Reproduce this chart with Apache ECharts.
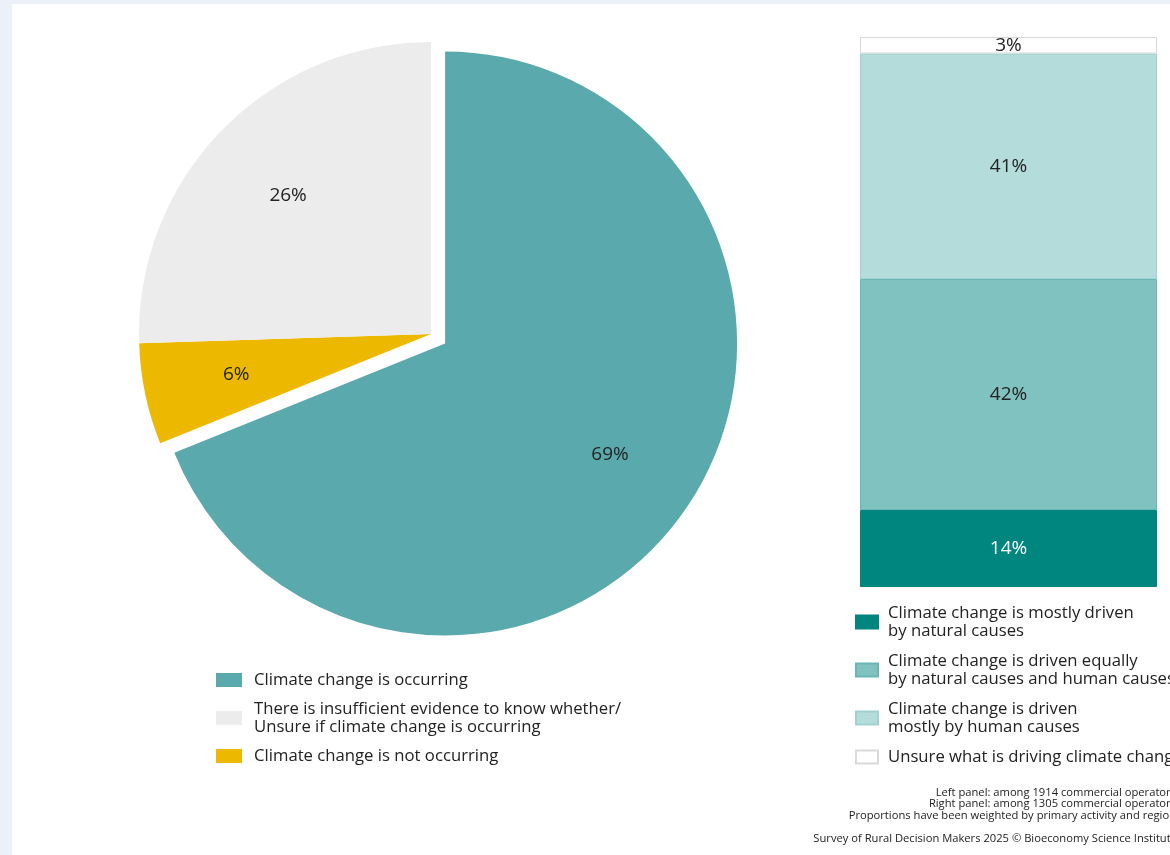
<!DOCTYPE html>
<html>
<head>
<meta charset="utf-8">
<script src="https://cdn.jsdelivr.net/npm/echarts@6/dist/echarts.min.js"></script>
<style>
  html, body { margin: 0; padding: 0; background: #ebf0f9; width: 1170px; height: 855px; overflow: hidden; }
  #panel { position: absolute; left: 12px; top: 4px; width: 1200px; height: 900px; background: #ffffff; }
  #chart { position: absolute; left: 0; top: 0; width: 1170px; height: 855px; }
</style>
</head>
<body>
<div id="panel"></div>
<div id="chart"></div>
<script>
// Left panel: pie (clockwise from 12 o'clock)
const pieNames = [
  'Climate change is occurring',
  'Climate change is not occurring',
  'There is insufficient evidence to know whether/\nUnsure if climate change is occurring'
];
const pieValues = [68.9, 5.6, 25.5];
const pieColors = ['#5aa9ac', '#ecb800', '#ececec'];
const pieLegendOrder = [pieNames[0], pieNames[2], pieNames[1]];

// Right panel: stacked bar (bottom to top)
const barNames = [
  'Climate change is mostly driven\nby natural causes',
  'Climate change is driven equally\nby natural causes and human causes',
  'Climate change is driven\nmostly by human causes',
  'Unsure what is driving climate change'
];
const barValues = [14, 42, 41, 3];
const barColors = ['#00857f', '#80c2c0', '#b3dcdb', '#ffffff'];
const barBorders = ['#00857f', '#6ab6b4', '#9fd2d1', '#d9d9d9'];
const barLabelColors = ['#ffffff', '#222222', '#222222', '#222222'];

const footLines = [
  'Left panel: among 1914 commercial operators',
  'Right panel: among 1305 commercial operators',
  'Proportions have been weighted by primary activity and region'
];
const sourceLine = 'Survey of Rural Decision Makers 2025 \u00a9 Bioeconomy Science Institute';

const FONT = '"Open Sans", "Noto Sans", sans-serif';
const chart = echarts.init(document.getElementById('chart'), null, { renderer: 'canvas' });

const pieData = pieNames.map((n, i) => ({
  name: n, value: pieValues[i], selected: i === 0,
  itemStyle: { color: pieColors[i] }
}));
const pieLabelData = pieNames.map((n, i) => ({
  name: n, value: pieValues[i], selected: i === 0
}));

const barSeries = barNames.map((n, i) => ({
  name: n, type: 'bar', stack: 'total', barWidth: '100%',
  data: [barValues[i]],
  itemStyle: { color: barColors[i], borderColor: barBorders[i], borderWidth: 1 },
  label: {
    show: true, position: 'inside', formatter: '{c}%',
    fontSize: 19, fontFamily: FONT, color: barLabelColors[i]
  },
  emphasis: { disabled: true }, silent: true
}));

chart.setOption({
  animation: false,
  textStyle: { fontFamily: FONT },
  grid: { left: 860, top: 37, width: 297, height: 550 },
  xAxis: { type: 'category', data: [''], show: false },
  yAxis: { type: 'value', min: 0, max: 100, show: false },
  legend: [
    {
      data: pieLegendOrder, left: 216, top: 671, padding: 0, orient: 'vertical',
      icon: 'rect', itemWidth: 26, itemHeight: 14, itemGap: 11,
      selectedMode: false,
      textStyle: { fontSize: 16.7, color: '#222', lineHeight: 18, fontFamily: FONT, padding: [0, 0, 0, 7] }
    },
    {
      data: barNames, left: 855, top: 604, padding: 0, orient: 'vertical',
      icon: 'rect', itemWidth: 22, itemHeight: 13, itemGap: 12,
      selectedMode: false,
      textStyle: { fontSize: 16.7, color: '#222', lineHeight: 18, fontFamily: FONT, padding: [0, 0, 0, 5] }
    }
  ],
  series: [
    {
      type: 'pie', center: [431, 334], radius: [0, 292], startAngle: 90, clockwise: true,
      selectedMode: 'single', selectedOffset: 17,
      data: pieData, label: { show: false }, labelLine: { show: false },
      emphasis: { disabled: true }, silent: true
    },
    {
      type: 'pie', center: [431, 334], radius: [100, 292], startAngle: 90, clockwise: true,
      selectedMode: 'single', selectedOffset: 17,
      data: pieLabelData,
      itemStyle: { color: 'rgba(0,0,0,0)' },
      label: {
        show: true, position: 'inside', fontSize: 19, color: '#222', fontFamily: FONT,
        formatter: p => Math.round(p.value) + '%'
      },
      labelLine: { show: false },
      emphasis: { disabled: true }, silent: true, legendHoverLink: false
    }
  ].concat(barSeries),
  graphic: footLines.map((t, i) => ({
    type: 'text', right: -6, top: 787 + i * 11.5,
    style: { text: t, fontSize: 11.2, fill: '#222', fontFamily: FONT }
  })).concat([{
    type: 'text', right: -7, top: 833,
    style: { text: sourceLine, fontSize: 11.2, fill: '#222', fontFamily: FONT }
  }])
});
</script>
</body>
</html>
